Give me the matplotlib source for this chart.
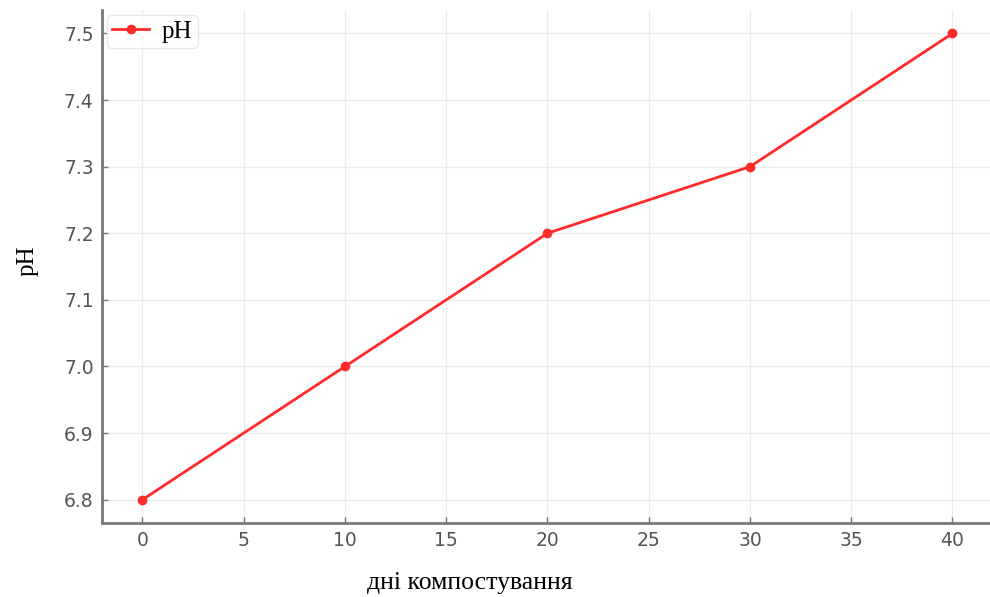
import numpy as np
import matplotlib.pyplot as plt

days = [0, 10, 20, 30, 40]
ph = [6.8, 7.0, 7.2, 7.3, 7.5]
xticks = [0, 5, 10, 15, 20, 25, 30, 35, 40]
yticks = [6.8, 6.9, 7.0, 7.1, 7.2, 7.3, 7.4, 7.5]

fig = plt.figure(figsize=(9.9, 5.97), dpi=100)
ax = fig.add_axes([0.103, 0.124, 0.9, 0.859])

ax.plot(days, ph, color='#ff2a2a', marker='o', markersize=6, linewidth=2, label='pH')

ax.set_xticks(xticks)
ax.set_yticks(yticks)
ax.set_yticklabels([f"{v:.1f}" for v in yticks])
ax.grid(True, color='#ebebeb', linewidth=0.9)
ax.set_axisbelow(True)

for s in ['top', 'right']:
    ax.spines[s].set_visible(False)
for s in ['left', 'bottom']:
    ax.spines[s].set_color('#777777')
    ax.spines[s].set_linewidth(2)

ax.tick_params(direction='in', length=4, width=1, colors='#777777',
               labelsize=13.5, labelcolor='#555555', pad=6)

leg = ax.legend(loc='upper left', prop={'family': 'Liberation Serif', 'size': 18},
                frameon=True, handlelength=1.5, borderpad=0.2, borderaxespad=0.2,
                handletextpad=0.5, fancybox=True)
leg.get_frame().set_edgecolor('#e3e3e3')

fig.text(0.028, 0.564, 'pH', rotation=90, family='Liberation Serif', fontsize=18,
         ha='center', va='center')
fig.text(0.475, 0.024, 'дні компостування', family='Liberation Serif', fontsize=18.5,
         ha='center', va='center')

fig.savefig('out.png', dpi=100)
